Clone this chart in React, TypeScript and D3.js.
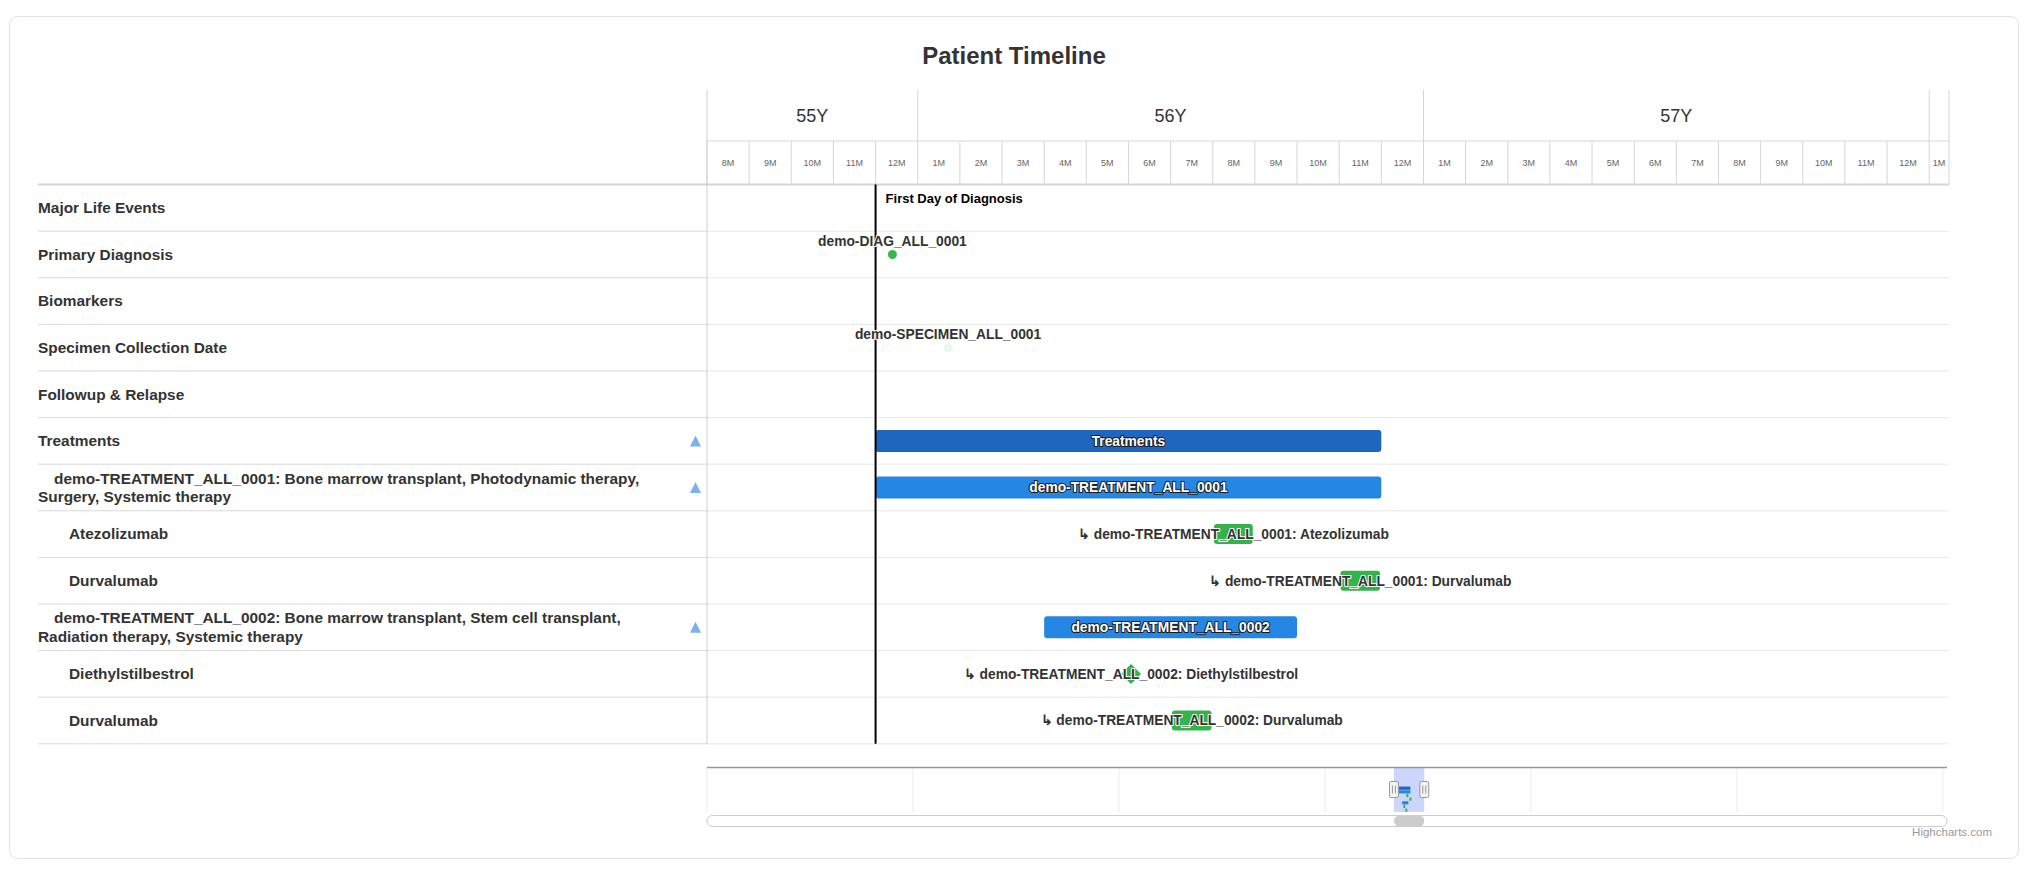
import React from "react";
import * as d3 from "d3";

// ---------------- data ----------------
const TITLE = "Patient Timeline";
const CREDITS = "Highcharts.com";

// visible window, in months of age
const VIEW_START = 667;
const VIEW_END = 696.47;
// navigator range in months of age
const NAV_START = 0;
const NAV_END = 1204;
const NAV_GRID_STEP = 200;

const YEAR_LABELS = ["55Y", "56Y", "57Y", "58Y"];
const YEAR_STARTS = [660, 672, 684, 696];
const MONTH_LABELS = ["1M", "2M", "3M", "4M", "5M", "6M", "7M", "8M", "9M", "10M", "11M", "12M"];

const ROW_LABELS: string[][] = [
  ["Major Life Events"],
  ["Primary Diagnosis"],
  ["Biomarkers"],
  ["Specimen Collection Date"],
  ["Followup & Relapse"],
  ["Treatments"],
  ["demo-TREATMENT_ALL_0001: Bone marrow transplant, Photodynamic therapy,", "Surgery, Systemic therapy"],
  ["Atezolizumab"],
  ["Durvalumab"],
  ["demo-TREATMENT_ALL_0002: Bone marrow transplant, Stem cell transplant,", "Radiation therapy, Systemic therapy"],
  ["Diethylstilbestrol"],
  ["Durvalumab"],
];
const ROW_LEVELS = [0, 0, 0, 0, 0, 0, 1, 2, 2, 1, 2, 2];
const ROW_COLLAPSIBLE = [false, false, false, false, false, true, true, false, false, true, false, false];

const DIAGNOSIS_AGE = 671;
const DIAGNOSIS_LABEL = "First Day of Diagnosis";

const POINT_NAMES = ["demo-DIAG_ALL_0001", "demo-SPECIMEN_ALL_0001"];
const POINT_ROWS = [1, 3];
const POINT_AGES = [671.4, 672.72];
const POINT_COLORS = ["#3bb54f", "#eaf7ec"];

const TASK_LABELS = [
  "Treatments",
  "demo-TREATMENT_ALL_0001",
  "\u21b3 demo-TREATMENT_ALL_0001: Atezolizumab",
  "\u21b3 demo-TREATMENT_ALL_0001: Durvalumab",
  "demo-TREATMENT_ALL_0002",
  "\u21b3 demo-TREATMENT_ALL_0002: Diethylstilbestrol",
  "\u21b3 demo-TREATMENT_ALL_0002: Durvalumab",
];
const TASK_ROWS = [5, 6, 7, 8, 9, 10, 11];
const TASK_STARTS = [671, 671, 679.03, 682.03, 675, 677.06, 678.03];
const TASK_ENDS = [683, 683, 679.95, 682.97, 681, 677.06, 678.97];
const TASK_KINDS = ["group", "parent", "leaf", "leaf", "parent", "milestone", "leaf"];
const KIND_COLORS: Record<string, string> = {
  group: "#1f66c1",
  parent: "#2586e3",
  leaf: "#35b34b",
  milestone: "#35b34b",
};

// ---------------- layout ----------------
const W = 2029;
const H = 875;
const FONT = '"Liberation Sans", Arial, Helvetica, sans-serif';
const PLOT_L = 707;
const PLOT_R = 1949;
const HEAD_TOP = 90;
const YEAR_BOTTOM = 141;
const HEAD_BOTTOM = 184.6;
const ROW_H = 46.6;
const LABEL_L = 38;
const NAV_TOP = 767;
const NAV_BOTTOM = 812;
const NAV_L = 707;
const NAV_R = 1947;

export default function App() {
  const x = d3.scaleLinear().domain([VIEW_START, VIEW_END]).range([PLOT_L, PLOT_R]);
  const nRows = ROW_LABELS.length;
  const y = d3
    .scaleLinear()
    .domain([0, nRows])
    .range([HEAD_BOTTOM, HEAD_BOTTOM + nRows * ROW_H]);
  const rowMid = (i: number) => y(i + 0.5);
  const plotBottom = y(nRows);

  const nx = d3.scaleLinear().domain([NAV_START, NAV_END]).range([NAV_L, NAV_R]);
  const ny = d3.scaleLinear().domain([0, nRows]).range([NAV_TOP + 1, NAV_BOTTOM]);

  const monthStarts = d3.range(Math.floor(VIEW_START), Math.ceil(VIEW_END));
  const clampX = (v: number) => Math.max(PLOT_L, Math.min(PLOT_R, x(v)));

  const navGrid = d3.range(NAV_START, NAV_END + 1, NAV_GRID_STEP);

  const barLabelStyle = {
    fontFamily: FONT,
    fontSize: 13.8,
    fontWeight: "bold" as const,
  };

  return (
    <svg
      width={W}
      height={H}
      style={{ position: "absolute", left: 0, top: 0, background: "#fff" }}
      fontFamily={FONT}
    >
      {/* card */}
      <rect x={9.5} y={16.5} width={2009} height={842} rx={8} fill="#fff" stroke="#e3e3e3" />

      {/* title */}
      <text x={1014} y={64} textAnchor="middle" fontSize={24} fontWeight="bold" fill="#333">
        {TITLE}
      </text>

      {/* header: years */}
      {YEAR_STARTS.map((ys, i) => {
        const a = clampX(ys);
        const b = clampX(ys + 12);
        return (
          <g key={"y" + i}>
            {x(ys) >= PLOT_L && x(ys) <= PLOT_R && (
              <line x1={x(ys)} x2={x(ys)} y1={HEAD_TOP} y2={YEAR_BOTTOM} stroke="#d6d6d6" />
            )}
            {b - a > 60 && (
              <text x={(a + b) / 2} y={116} dy="0.35em" textAnchor="middle" fontSize={18} fill="#333">
                {YEAR_LABELS[i]}
              </text>
            )}
          </g>
        );
      })}
      <line x1={PLOT_R} x2={PLOT_R} y1={HEAD_TOP} y2={HEAD_BOTTOM} stroke="#d6d6d6" />
      <line x1={PLOT_L} x2={PLOT_R} y1={YEAR_BOTTOM} y2={YEAR_BOTTOM} stroke="#d6d6d6" />

      {/* header: months */}
      {monthStarts.map((m) => {
        const a = clampX(m);
        const b = clampX(m + 1);
        const idx = ((m % 12) + 12) % 12;
        return (
          <g key={"m" + m}>
            <line x1={a} x2={a} y1={YEAR_BOTTOM} y2={HEAD_BOTTOM} stroke="#d6d6d6" />
            <text x={(a + b) / 2} y={163} dy="0.35em" textAnchor="middle" fontSize={9} fill="#666">
              {MONTH_LABELS[idx]}
            </text>
          </g>
        );
      })}

      {/* row grid lines */}
      {d3.range(1, nRows + 1).map((i) => (
        <g key={"r" + i}>
          <line x1={LABEL_L} x2={PLOT_L} y1={y(i)} y2={y(i)} stroke="#d9d9d9" />
          <line x1={PLOT_L} x2={PLOT_R} y1={y(i)} y2={y(i)} stroke="#e8e8e8" />
        </g>
      ))}
      <line x1={LABEL_L} x2={PLOT_R} y1={HEAD_BOTTOM} y2={HEAD_BOTTOM} stroke="#d4d4d4" strokeWidth={2} />
      <line x1={PLOT_L} x2={PLOT_L} y1={HEAD_TOP} y2={plotBottom} stroke="#d0d0d0" />

      {/* row labels */}
      {ROW_LABELS.map((lines, i) => {
        const indent = ROW_LEVELS[i] === 2 ? 31 : ROW_LEVELS[i] === 1 ? 16 : 0;
        const mid = rowMid(i);
        const lh = 18.5;
        return (
          <g key={"l" + i}>
            {lines.map((ln, j) => (
              <text
                key={j}
                x={LABEL_L + (j === 0 ? indent : 0)}
                y={mid + (j - (lines.length - 1) / 2) * lh}
                dy="0.35em"
                fontSize={15.4}
                fontWeight="bold"
                fill="#333"
              >
                {ln}
              </text>
            ))}
            {ROW_COLLAPSIBLE[i] && (
              <path
                d={`M${695.5},${mid - 5.5} L${701},${mid + 5.5} L${690},${mid + 5.5} Z`}
                fill="#7cb1ea"
              />
            )}
          </g>
        );
      })}

      {/* tasks */}
      {TASK_LABELS.map((label, i) => {
        const kind = TASK_KINDS[i];
        const mid = rowMid(TASK_ROWS[i]);
        const x0 = x(TASK_STARTS[i]);
        const x1 = x(TASK_ENDS[i]);
        const color = KIND_COLORS[kind];
        const cx = (x0 + x1) / 2;
        if (kind === "milestone") {
          return (
            <g key={"t" + i}>
              <path d={`M${cx},${mid - 10} L${cx + 10},${mid} L${cx},${mid + 10} L${cx - 10},${mid} Z`} fill={color} />
              <text
                x={cx}
                y={mid}
                dy="0.35em"
                textAnchor="middle"
                {...barLabelStyle}
                fill="#333"
                stroke="#fff"
                strokeWidth={2}
                strokeLinejoin="round"
                paintOrder="stroke"
              >
                {label}
              </text>
            </g>
          );
        }
        const hgt = kind === "leaf" ? 20 : 22;
        const dark = kind === "group" || kind === "parent";
        return (
          <g key={"t" + i}>
            <rect x={x0} y={mid - hgt / 2} width={x1 - x0} height={hgt} rx={3} fill={color} />
            <text
              x={cx}
              y={mid}
              dy="0.35em"
              textAnchor="middle"
              {...barLabelStyle}
              fill={dark ? "#fff" : "#333"}
              stroke={dark ? "#1a1a1a" : "#fff"}
              strokeWidth={2}
              strokeLinejoin="round"
              paintOrder="stroke"
            >
              {label}
            </text>
          </g>
        );
      })}

      {/* diagnosis plot line */}
      <line x1={x(DIAGNOSIS_AGE)} x2={x(DIAGNOSIS_AGE)} y1={HEAD_BOTTOM} y2={plotBottom} stroke="#000" strokeWidth={2} />
      <text x={x(DIAGNOSIS_AGE) + 10} y={203} fontSize={13} fontWeight="bold" fill="#000">
        {DIAGNOSIS_LABEL}
      </text>

      {/* points */}
      {POINT_NAMES.map((name, i) => {
        const px = x(POINT_AGES[i]);
        const py = rowMid(POINT_ROWS[i]);
        return (
          <g key={"p" + i}>
            <circle cx={px} cy={py} r={4.5} fill={POINT_COLORS[i]} />
            <text
              x={px}
              y={py - 9}
              textAnchor="middle"
              {...barLabelStyle}
              fill="#333"
              stroke="#fff"
              strokeWidth={2}
              strokeLinejoin="round"
              paintOrder="stroke"
            >
              {name}
            </text>
          </g>
        );
      })}

      {/* navigator */}
      <g>
        {navGrid.map((g) => (
          <line key={"ng" + g} x1={nx(g)} x2={nx(g)} y1={NAV_TOP} y2={NAV_BOTTOM} stroke="#ebebeb" />
        ))}
        <rect
          x={nx(VIEW_START)}
          y={NAV_TOP}
          width={nx(VIEW_END) - nx(VIEW_START)}
          height={NAV_BOTTOM - NAV_TOP}
          fill="rgba(90,120,240,0.3)"
        />
        {TASK_LABELS.map((_, i) => {
          const kind = TASK_KINDS[i];
          const a = nx(TASK_STARTS[i]);
          const b = nx(TASK_ENDS[i]);
          const cy = ny(TASK_ROWS[i] + 0.5);
          return (
            <rect
              key={"nt" + i}
              x={a - (kind === "milestone" ? 1 : 0)}
              y={cy - 1.6}
              width={Math.max(2, b - a)}
              height={3.2}
              fill={KIND_COLORS[kind]}
            />
          );
        })}
        <line x1={NAV_L} x2={NAV_R} y1={NAV_TOP + 0.5} y2={NAV_TOP + 0.5} stroke="#999" strokeWidth={1.5} />
        {[VIEW_START, VIEW_END].map((v, i) => {
          const hx = nx(v);
          const hy = (NAV_TOP + NAV_BOTTOM) / 2;
          return (
            <g key={"h" + i}>
              <rect x={hx - 4.5} y={hy - 8} width={9} height={16} rx={1.5} fill="#f2f2f2" stroke="#999" />
              <line x1={hx - 1.5} x2={hx - 1.5} y1={hy - 4} y2={hy + 4} stroke="#999" />
              <line x1={hx + 1.5} x2={hx + 1.5} y1={hy - 4} y2={hy + 4} stroke="#999" />
            </g>
          );
        })}
        {/* scrollbar */}
        <rect x={NAV_L} y={815.5} width={NAV_R - NAV_L} height={11} rx={5.5} fill="#fff" stroke="#cccccc" />
        <rect
          x={nx(VIEW_START)}
          y={815.5}
          width={nx(VIEW_END) - nx(VIEW_START)}
          height={11}
          rx={5.5}
          fill="#cccccc"
        />
      </g>

      {/* credits */}
      <text x={1992} y={836} textAnchor="end" fontSize={11.5} fill="#999">
        {CREDITS}
      </text>
    </svg>
  );
}
